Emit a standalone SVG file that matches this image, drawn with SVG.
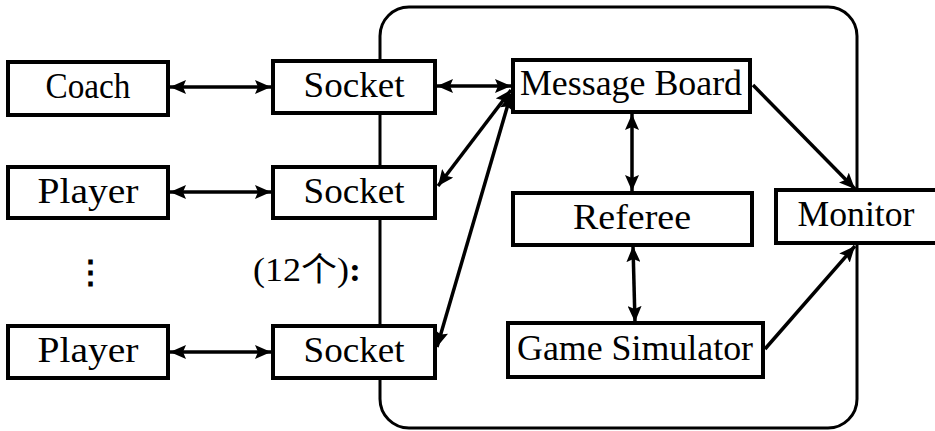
<svg xmlns="http://www.w3.org/2000/svg" width="935" height="431" viewBox="0 0 935 431">
  <defs>
    <marker id="head" viewBox="0 0 16 14" refX="16" refY="7" markerWidth="16" markerHeight="14" markerUnits="userSpaceOnUse" orient="auto-start-reverse">
      <path d="M0,0 L16,7 L0,14 L3,7 Z" fill="#000"/>
    </marker>
  </defs>
  <style>
    .box { fill: #fff; stroke: #000; stroke-width: 4; }
    .frame { fill: none; stroke: #000; stroke-width: 3; }
    .lbl { font-family: "Liberation Serif", "DejaVu Serif", serif; font-size: 35px; fill: #000; text-anchor: middle; }
    .conn line { stroke: #000; stroke-width: 3.5; }
    .two { marker-start: url(#head); marker-end: url(#head); }
    .one { marker-end: url(#head); }
    .note { font-family: "Liberation Serif", "Noto Sans CJK SC", serif; font-size: 33px; fill: #000; }
  </style>
  <rect id="white" x="0" y="0" width="935" height="431" fill="#fff"/>

  <!-- server boundary -->
  <rect id="server" class="frame" x="380" y="7" width="477" height="421" rx="29"/>

  <!-- connectors -->
  <g id="connectors" class="conn">
    <line class="two" x1="170" y1="87" x2="271" y2="87"/>
    <line class="two" x1="170" y1="192" x2="271" y2="192"/>
    <line class="two" x1="170" y1="352" x2="271" y2="352"/>
    <line class="two" x1="437" y1="86" x2="511" y2="86"/>
    <line class="two" x1="438" y1="186" x2="511" y2="90"/>
    <line class="two" x1="437" y1="347" x2="511" y2="94"/>
    <line class="two" x1="632" y1="114" x2="632" y2="191"/>
    <line class="two" x1="633" y1="246" x2="635" y2="322"/>
    <line class="one" x1="753" y1="85" x2="855" y2="189"/>
    <line class="one" x1="765" y1="349" x2="855" y2="246"/>
  </g>

  <g id="coach">
    <rect class="box" x="8" y="62" width="160" height="53"/>
    <text class="lbl" x="88" y="98" textLength="85" lengthAdjust="spacingAndGlyphs">Coach</text>
  </g>
  <g id="player1">
    <rect class="box" x="8" y="167" width="160" height="51"/>
    <text class="lbl" x="88" y="203" textLength="101" lengthAdjust="spacingAndGlyphs">Player</text>
  </g>
  <g id="player2">
    <rect class="box" x="8" y="326" width="160" height="52"/>
    <text class="lbl" x="88" y="362" textLength="101" lengthAdjust="spacingAndGlyphs">Player</text>
  </g>
  <g id="socket1">
    <rect class="box" x="273" y="61" width="162" height="52"/>
    <text class="lbl" x="354" y="97" textLength="101" lengthAdjust="spacingAndGlyphs">Socket</text>
  </g>
  <g id="socket2">
    <rect class="box" x="273" y="167" width="162" height="51"/>
    <text class="lbl" x="354" y="203" textLength="101" lengthAdjust="spacingAndGlyphs">Socket</text>
  </g>
  <g id="socket3">
    <rect class="box" x="273" y="326" width="162" height="52"/>
    <text class="lbl" x="354" y="362" textLength="101" lengthAdjust="spacingAndGlyphs">Socket</text>
  </g>
  <g id="message-board">
    <rect class="box" x="513" y="60" width="237" height="52"/>
    <text class="lbl" x="631" y="95" textLength="222" lengthAdjust="spacingAndGlyphs">Message Board</text>
  </g>
  <g id="referee">
    <rect class="box" x="513" y="193" width="239" height="52"/>
    <text class="lbl" x="632" y="229" textLength="118" lengthAdjust="spacingAndGlyphs">Referee</text>
  </g>
  <g id="monitor">
    <rect class="box" x="776" y="190" width="175" height="53"/>
    <text class="lbl" x="856" y="226" textLength="117" lengthAdjust="spacingAndGlyphs">Monitor</text>
  </g>
  <g id="game-simulator">
    <rect class="box" x="508" y="323" width="255" height="54"/>
    <text class="lbl" x="635" y="360" textLength="236" lengthAdjust="spacingAndGlyphs">Game Simulator</text>
  </g>

  <!-- repetition marks -->
  <g id="ellipsis">
    <text class="note" x="90" y="284" text-anchor="middle" font-weight="bold" font-size="38">⋮</text>
  </g>
  <g id="count">
    <text class="note" x="253" y="281" textLength="108" lengthAdjust="spacingAndGlyphs">(12个)<tspan font-weight="bold">:</tspan></text>
  </g>
</svg>
